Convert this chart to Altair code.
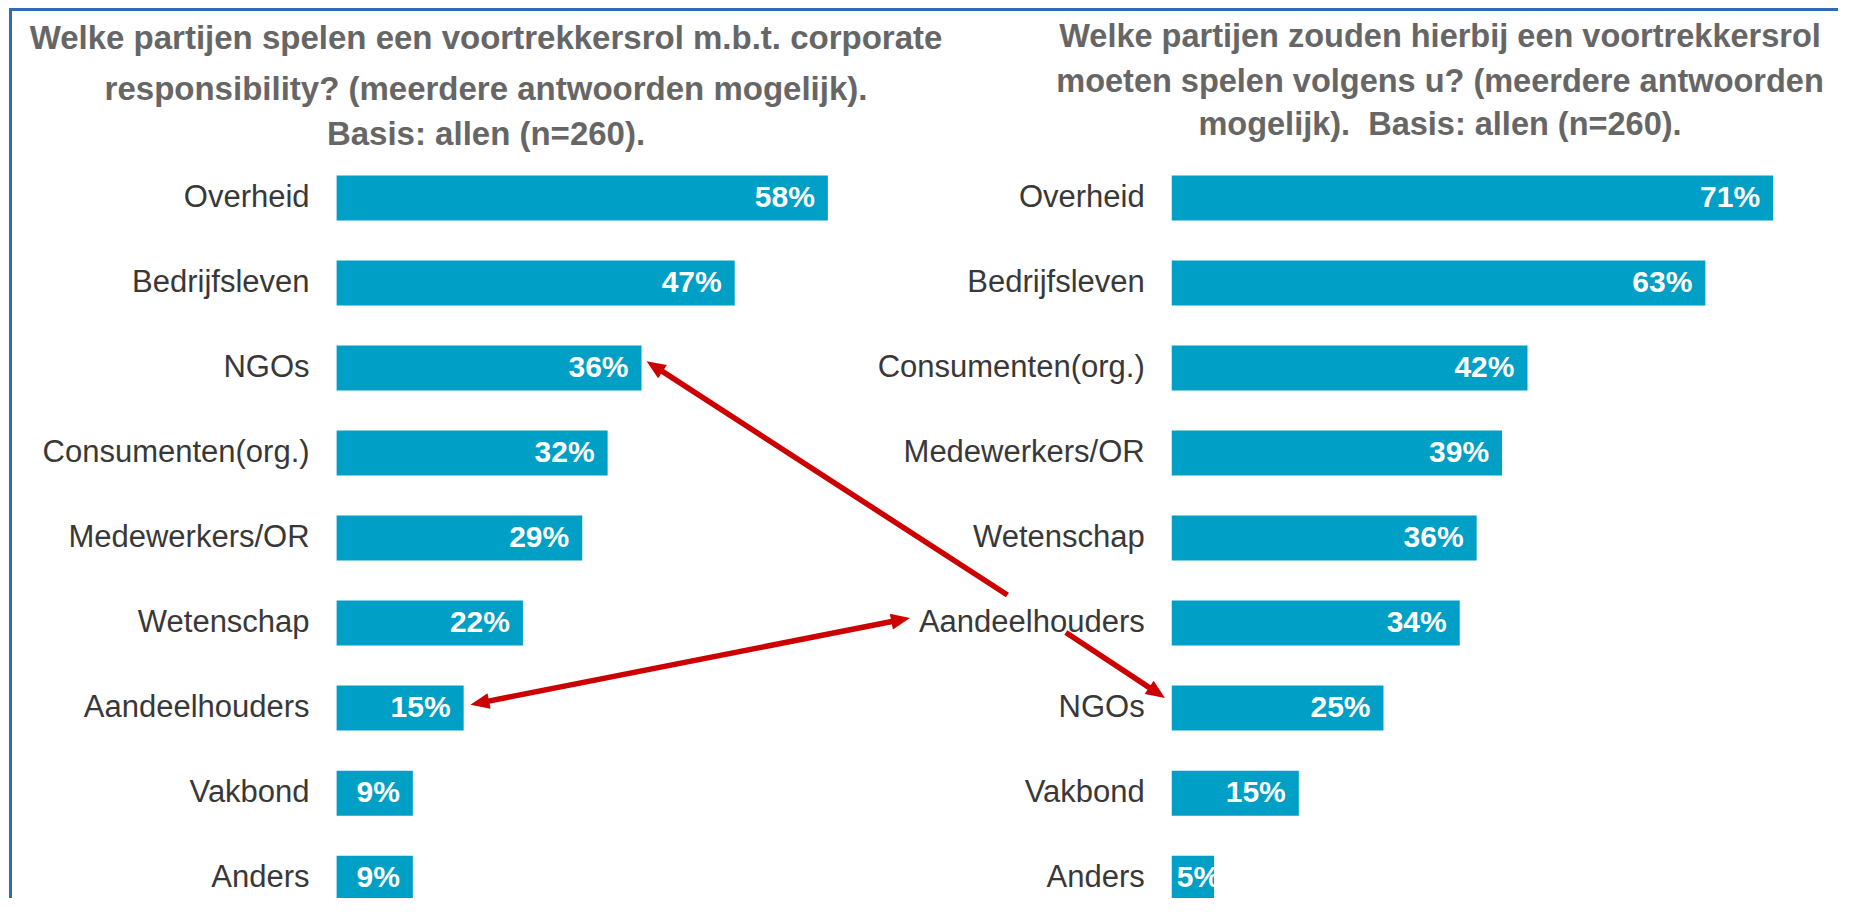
import math
import pandas as pd
import altair as alt

# ---------------- data ----------------
left_categories = ["Overheid", "Bedrijfsleven", "NGOs", "Consumenten(org.)", "Medewerkers/OR",
                   "Wetenschap", "Aandeelhouders", "Vakbond", "Anders"]
left_values = [58, 47, 36, 32, 29, 22, 15, 9, 9]

right_categories = ["Overheid", "Bedrijfsleven", "Consumenten(org.)", "Medewerkers/OR", "Wetenschap",
                    "Aandeelhouders", "NGOs", "Vakbond", "Anders"]
right_values = [71, 63, 42, 39, 36, 34, 25, 15, 5]

left_title_lines = ["Welke partijen spelen een voortrekkersrol m.b.t. corporate",
                    "responsibility? (meerdere antwoorden mogelijk).",
                    "Basis: allen (n=260)."]
right_title_lines = ["Welke partijen zouden hierbij een voortrekkersrol",
                     "moeten spelen volgens u? (meerdere antwoorden",
                     "mogelijk).\u00a0 Basis: allen (n=260)."]

# annotation arrows (data units: x in percentage points on the shared axis, y in row rank)
arrow_x_from = [79.2, 15.8, 86.1]
arrow_row_from = [5.67, 6.96, 6.11]
arrow_x_to = [36.6, 67.7, 97.8]
arrow_row_to = [2.92, 5.94, 6.88]
arrow_double = [False, True, False]

# ---------------- layout ----------------
W, H = 1830, 890
PX_PER_PCT = 8.47
ROW_STEP = 86.0
X_ORIGIN = 328.6
ROW1_Y = 187.0
RIGHT_OFFSET = 98.6
BAR_THICK = 45
HEAD_LEN = 19

XMIN = -X_ORIGIN / PX_PER_PCT
XMAX = (W - X_ORIGIN) / PX_PER_PCT
YTOP = 1 - ROW1_Y / ROW_STEP
YBOT = YTOP + H / ROW_STEP

BAR_COLOR = "#009FC6"
TEXT_COLOR = "#383838"
TITLE_COLOR = "#666666"
RED = "#CC0000"
FRAME = "#2E6DB4"
FONT = "Liberation Sans, Arial, sans-serif"

xscale = alt.Scale(domain=[XMIN, XMAX], nice=False, zero=False)
yscale = alt.Scale(domain=[YTOP, YBOT], nice=False, zero=False, reverse=True)

rows = []
for i, (c, v) in enumerate(zip(left_categories, left_values)):
    rows.append(dict(panel="left", rank=i + 1, category=c, value=v, start=0.0, end=float(v), label=f"{v}%"))
for i, (c, v) in enumerate(zip(right_categories, right_values)):
    rows.append(dict(panel="right", rank=i + 1, category=c, value=v, start=RIGHT_OFFSET,
                     end=RIGHT_OFFSET + v, label=f"{v}%"))
df = pd.DataFrame(rows)

# arrows
shafts, heads = [], []
for x0, y0, x1, y1, dbl in zip(arrow_x_from, arrow_row_from, arrow_x_to, arrow_row_to, arrow_double):
    dxp = (x1 - x0) * PX_PER_PCT
    dyp = (y1 - y0) * ROW_STEP
    L = math.hypot(dxp, dyp)
    ux, uy = dxp / L, dyp / L
    cut = HEAD_LEN * 0.7
    xe, ye = x1 - ux * cut / PX_PER_PCT, y1 - uy * cut / ROW_STEP
    xs, ys = x0, y0
    ang = math.degrees(math.atan2(ux, -uy)) % 360
    heads.append(dict(x=x1, r=y1, angle=ang))
    if dbl:
        xs, ys = x0 + ux * cut / PX_PER_PCT, y0 + uy * cut / ROW_STEP
        heads.append(dict(x=x0, r=y0, angle=(ang + 180) % 360))
    shafts.append(dict(x=xs, r=ys, x2=xe, r2=ye))
shaft_df = pd.DataFrame(shafts)
head_df = pd.DataFrame(heads)

one = pd.DataFrame({"k": [0]})

frame_top = alt.Chart(one).mark_rule(color=FRAME, strokeWidth=3).encode(
    x=alt.value(2), x2=alt.value(W), y=alt.value(1.5))
frame_left = alt.Chart(one).mark_rule(color=FRAME, strokeWidth=3).encode(
    x=alt.value(2.5), y=alt.value(0), y2=alt.value(H))

X = alt.X("start:Q", scale=xscale, axis=None)
Y = alt.Y("rank:Q", scale=yscale, axis=None)

bars = alt.Chart(df).mark_bar(orient="horizontal", size=BAR_THICK, color=BAR_COLOR).encode(
    x=X, x2="end:Q", y=Y)

cat_labels = alt.Chart(df).mark_text(align="right", baseline="middle", dx=-27, fontSize=31,
                                     font=FONT, color=TEXT_COLOR).encode(x=X, y=Y, text="category:N")

val_big = alt.Chart(df).transform_filter("datum.value >= 8").mark_text(
    align="right", baseline="middle", dx=-13, fontSize=30, fontWeight="bold", font=FONT, color="white"
).encode(x=alt.X("end:Q", scale=xscale, axis=None), y=Y, text="label:N")

val_small = alt.Chart(df).transform_filter("datum.value < 8").mark_text(
    align="left", baseline="middle", dx=5, fontSize=30, fontWeight="bold", font=FONT, color="white"
).encode(x=X, y=Y, text="label:N")

arrow_shafts = alt.Chart(shaft_df).mark_rule(color=RED, strokeWidth=5.5).encode(
    x=alt.X("x:Q", scale=xscale, axis=None), x2="x2:Q",
    y=alt.Y("r:Q", scale=yscale, axis=None), y2="r2:Q")

head_path = "M0,0L0.42,1L-0.42,1Z"
arrow_heads = alt.Chart(head_df).mark_point(
    shape=head_path, filled=True, size=(2 * HEAD_LEN) ** 2, color=RED, opacity=1, strokeWidth=0
).encode(x=alt.X("x:Q", scale=xscale, axis=None), y=alt.Y("r:Q", scale=yscale, axis=None),
         angle=alt.Angle("angle:Q", scale=None))

LEFT_TITLE_X, LEFT_TITLE_Y = 478, [41, 92, 137]
RIGHT_TITLE_X, RIGHT_TITLE_Y = 1432, [39, 84, 127]

title_layers = []
for line, yy in zip(left_title_lines, LEFT_TITLE_Y):
    title_layers.append(alt.Chart(one).mark_text(
        text=line, align="center", baseline="alphabetic", fontSize=33, fontWeight="bold",
        font=FONT, color=TITLE_COLOR).encode(x=alt.value(LEFT_TITLE_X), y=alt.value(yy)))
for line, yy in zip(right_title_lines, RIGHT_TITLE_Y):
    title_layers.append(alt.Chart(one).mark_text(
        text=line, align="center", baseline="alphabetic", fontSize=32.5, fontWeight="bold",
        font=FONT, color=TITLE_COLOR).encode(x=alt.value(RIGHT_TITLE_X), y=alt.value(yy)))

chart = alt.layer(
    frame_top, frame_left, bars, cat_labels, val_big, val_small, arrow_shafts, arrow_heads,
    *title_layers
).properties(
    width=W, height=H, padding=0, autosize=alt.AutoSizeParams(type="none"), background="white"
).configure_view(stroke=None)

chart.save("out.html", embed_options={"renderer": "svg", "actions": False})
